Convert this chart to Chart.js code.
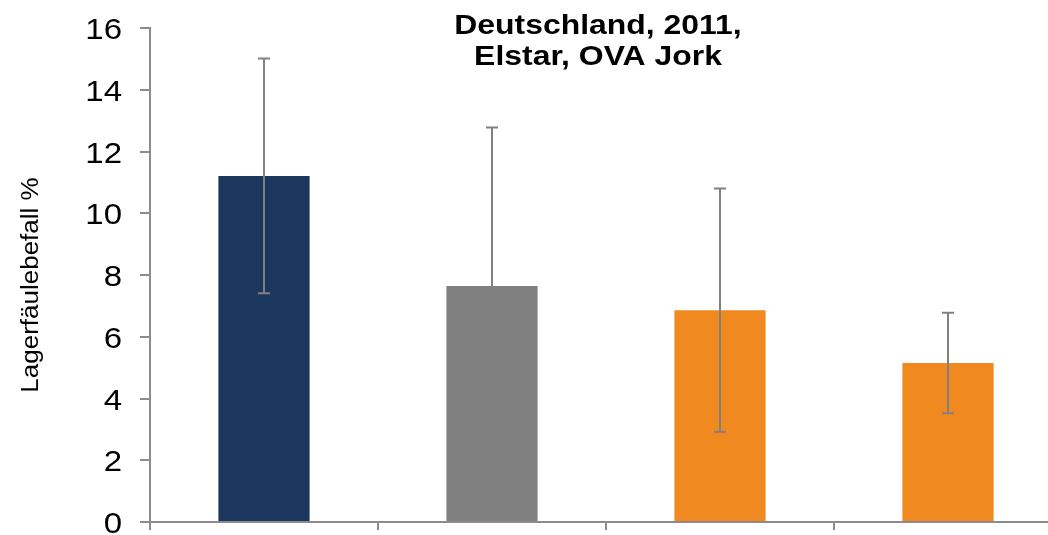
<!DOCTYPE html>
<html>
<head>
<meta charset="utf-8">
<script src="https://cdn.jsdelivr.net/npm/chart.js@4"></script>
<style>
  html, body { margin: 0; padding: 0; background: #fff; overflow: hidden; }
  #wrap { width: 1048px; height: 535px; overflow: hidden; }
</style>
</head>
<body>
<div id="wrap"><canvas id="chart" width="1062" height="535"></canvas></div>
<script>
const categories = ['A', 'B', 'C', 'D'];
const values = [11.21, 7.64, 6.86, 5.15];
const errors = [3.8, 5.14, 3.94, 1.63];
const barColors = ['#1B375D', '#808080', '#F0891F', '#F0891F'];
const yTicks = [0, 2, 4, 6, 8, 10, 12, 14, 16];
const yTitle = 'Lagerfäulebefall %';
const titleLines = ['Deutschland, 2011,', 'Elstar, OVA Jork'];

const FONT = "'Liberation Sans', Arial, sans-serif";
const AXIS = '#8c8c8c';
const STRETCH = 1.13; // the original text is a bit wider than Arial

// error bars drawn from the data through the y scale
const errorBars = {
  id: 'errorBars',
  afterDatasetsDraw(chart) {
    const ctx = chart.ctx;
    const y = chart.scales.y;
    const meta = chart.getDatasetMeta(0);
    ctx.save();
    ctx.strokeStyle = '#808080';
    ctx.lineWidth = 2;
    meta.data.forEach((bar, i) => {
      const top = y.getPixelForValue(values[i] + errors[i]);
      const bot = y.getPixelForValue(values[i] - errors[i]);
      ctx.beginPath();
      ctx.moveTo(bar.x, top); ctx.lineTo(bar.x, bot);
      ctx.moveTo(bar.x - 6, top); ctx.lineTo(bar.x + 6, top);
      ctx.moveTo(bar.x - 6, bot); ctx.lineTo(bar.x + 6, bot);
      ctx.stroke();
    });
    ctx.restore();
  }
};

// text drawn by hand so it can be widened like the original
function wideText(ctx, text, x, y, k, align) {
  ctx.save();
  ctx.translate(x, y);
  ctx.scale(k, 1);
  ctx.textAlign = align;
  ctx.fillText(text, 0, 0);
  ctx.restore();
}

const texts = {
  id: 'texts',
  afterDraw(chart) {
    const ctx = chart.ctx;
    const y = chart.scales.y;
    ctx.save();
    ctx.fillStyle = '#000';
    ctx.textBaseline = 'alphabetic';

    ctx.font = '30px ' + FONT;
    yTicks.forEach(v => wideText(ctx, String(v), 122, y.getPixelForValue(v) + 11, 1.1, 'right'));

    ctx.font = 'bold 28px ' + FONT;
    wideText(ctx, titleLines[0], 598, 34, 1.14, 'center');
    wideText(ctx, titleLines[1], 598, 65, 1.14, 'center');

    ctx.font = '23px ' + FONT;
    ctx.translate(38, 285);
    ctx.rotate(-Math.PI / 2);
    wideText(ctx, yTitle, 0, 0, STRETCH, 'center');
    ctx.restore();
  }
};

new Chart(document.getElementById('chart'), {
  type: 'bar',
  data: {
    labels: categories,
    datasets: [{
      data: values,
      backgroundColor: barColors,
      barPercentage: 0.4,
      categoryPercentage: 1
    }]
  },
  options: {
    responsive: false,
    animation: false,
    layout: { padding: { top: 28, left: 0, right: 0, bottom: 0 } },
    plugins: { legend: { display: false }, tooltip: { enabled: false }, title: { display: false } },
    scales: {
      x: {
        ticks: { display: false },
        grid: { offset: true, drawOnChartArea: false, drawTicks: true, tickLength: 8, color: AXIS, lineWidth: 2 },
        border: { display: true, color: AXIS, width: 2 },
        afterFit(s) { s.height = 13; }
      },
      y: {
        min: 0, max: 16,
        afterBuildTicks(s) { s.ticks = yTicks.map(v => ({ value: v })); },
        ticks: { display: false },
        grid: { drawOnChartArea: false, drawTicks: true, tickLength: 10, color: AXIS, lineWidth: 2 },
        border: { display: true, color: AXIS, width: 2 },
        afterFit(s) { s.width = 150; }
      }
    }
  },
  plugins: [errorBars, texts]
});
</script>
</body>
</html>
